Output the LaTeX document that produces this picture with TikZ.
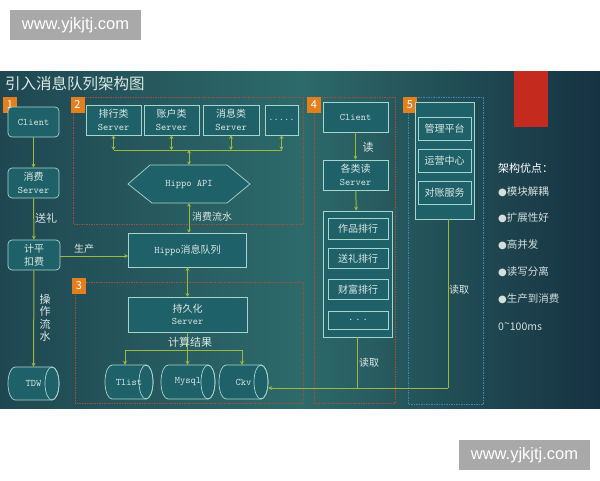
\documentclass[tikz,border=0pt]{standalone}
\usepackage{fontspec}
\setmainfont{Noto Sans CJK SC}
\newfontfamily\wmfont{Liberation Sans}
\newfontfamily\dejavu{DejaVu Sans}
\usetikzlibrary{arrows.meta}
\definecolor{bgl}{HTML}{1F4752}
\definecolor{bgm}{HTML}{2D6A6A}
\definecolor{bgr}{HTML}{163242}
\definecolor{nodefill}{HTML}{1E6168}
\definecolor{bord}{HTML}{A8D4CE}
\definecolor{txt}{HTML}{DCE8E4}
\definecolor{link}{HTML}{9DB83C}
\definecolor{sectred}{HTML}{A0503F}
\definecolor{sectblue}{HTML}{3C86BA}
\definecolor{numorange}{HTML}{E47F1E}
\definecolor{redbar}{HTML}{C42A1E}
\definecolor{wmgray}{HTML}{A9A9A9}
\definecolor{sidetxt}{HTML}{D4DEDC}
\newcommand\cylnode[6]{%
  \filldraw[draw=bord,fill=nodefill,line width=0.7pt] ({#2+7},#3) -- ({#4-7},#3)
    arc[start angle=270,end angle=450,x radius=7,y radius={(#5-#3)/2}] -- ({#2+7},#5)
    arc[start angle=90,end angle=270,x radius=7,y radius={(#5-#3)/2}] -- cycle;
  \draw[draw=bord,line width=0.7pt] ({#4-7},{(#3+#5)/2}) ellipse[x radius=7,y radius={(#5-#3)/2}];
  \node[inner sep=0pt,text=txt,font=\ttfamily\fontsize{10}{12}\selectfont,
        minimum width={(#4-#2)*1pt},minimum height={(#5-#3)*1pt}]
        (#1) at ({(#2+#4)/2},{(#3+#5)/2}) {#6};}
\begin{document}
\begin{tikzpicture}[x=1pt,y=-1pt,
  box/.style={draw=bord,fill=nodefill,text=txt,line width=0.7pt,inner sep=0pt,align=center,
              font=\fontsize{10}{12.5}\selectfont},
  rbox/.style={box,rounded corners=4pt},
  conn/.style={draw=link,line width=1pt,-{Stealth[length=4pt,width=4pt]}},
  dconn/.style={draw=link,line width=1pt,{Stealth[length=3.5pt,width=4pt]}-{Stealth[length=3.5pt,width=4pt]}},
  wire/.style={draw=link,line width=1pt},
  lbl/.style={text=txt,font=\fontsize{10}{11}\selectfont,inner sep=0pt,align=center},
  sect/.style={draw=sectred,line width=1pt,dash pattern=on 1.5pt off 1pt},
  num/.style={fill=numorange,text=white,font=\fontsize{11}{11}\selectfont,
              minimum width=14pt,minimum height=16pt,inner sep=0pt},
  side/.style={text=sidetxt,font=\fontsize{10.5}{12}\selectfont,anchor=west,inner sep=0pt}]
\useasboundingbox (0,0) rectangle (600,480);
\fill[white] (0,0) rectangle (600,480);
% watermarks
\node[fill=wmgray,text=white,font=\wmfont\fontsize{16.5}{16.5}\selectfont,minimum width=131pt,minimum height=30pt,inner sep=0pt] (wm1) at (75.5,25) {www.yjkjtj.com};
\node[fill=wmgray,text=white,font=\wmfont\fontsize{16.5}{16.5}\selectfont,minimum width=131pt,minimum height=30pt,inner sep=0pt] (wm2) at (524.5,455) {www.yjkjtj.com};
% panel
\shade[left color=bgl,right color=bgr,middle color=bgm] (0,71) rectangle (600,408);
\fill[redbar] (514,71) rectangle (548,127);
\node[anchor=west,text=txt,font=\fontsize{15.5}{15.5}\selectfont,inner sep=0pt] (title) at (5,84) {引入消息队列架构图};
% section frames
\draw[sect] (73,97) rectangle (303,224);
\draw[sect] (75,282) rectangle (303,403);
\draw[sect] (314,97) rectangle (395,403);
\draw[draw=sectblue,line width=1pt,dash pattern=on 1.5pt off 1pt] (408,97) rectangle (483,404);
\node[num] (n1) at (10,105) {1};
\node[num] (n2) at (77.5,105) {2};
\node[num] (n3) at (79,286) {3};
\node[num] (n4) at (314,105) {4};
\node[num] (n5) at (410,105) {5};
% section 1
\node[rbox,minimum width=51pt,minimum height=30pt,font=\ttfamily\fontsize{10}{12}\selectfont] (client1) at (33.5,122) {Client};
\node[rbox,minimum width=51pt,minimum height=30pt] (consume) at (33.5,183) {消费\\{\ttfamily Server}};
\node[rbox,minimum width=52pt,minimum height=30pt] (billing) at (34,255) {计平\\扣费};
\cylnode{tdw}{8}{367}{59}{400}{TDW}
\draw[conn] (client1) -- (consume);
\draw[conn] (consume) -- (billing);
\draw[conn] (billing) -- (tdw);
\node[lbl,font=\fontsize{11}{11}\selectfont] (l1) at (46,218) {送礼};
\node[lbl,font=\fontsize{11}{12.5}\selectfont] (l2) at (45,318) {操\\作\\流\\水};
% section 2
\node[box,minimum width=55pt,minimum height=30pt] (srv1) at (113.5,120) {排行类\\{\ttfamily Server}};
\node[box,minimum width=55pt,minimum height=30pt] (srv2) at (171.5,120) {账户类\\{\ttfamily Server}};
\node[box,minimum width=56pt,minimum height=30pt] (srv3) at (231,120) {消息类\\{\ttfamily Server}};
\node[box,minimum width=33pt,minimum height=30pt,font=\ttfamily\fontsize{10}{12}\selectfont] (srv4) at (281.5,120) {.....};
\filldraw[draw=bord,fill=nodefill,line width=0.7pt] (150,165) -- (227,165) -- (250,184) -- (227,203) -- (152,203) -- (128,184) -- cycle;
\node[inner sep=0pt,text=txt,font=\ttfamily\fontsize{10}{12}\selectfont,minimum width=122pt,minimum height=38pt] (hex) at (189,184) {Hippo API};
\coordinate (sb) at (189,150);
\draw[wire] (srv1.south |- sb) -- (srv4.south |- sb);
\draw[dconn] (srv1.south) -- (srv1.south |- sb);
\draw[dconn] (srv2.south) -- (srv2.south |- sb);
\draw[dconn] (srv3.south) -- (srv3.south |- sb);
\draw[dconn] (srv4.south) -- (srv4.south |- sb);
\draw[dconn] (sb) -- (hex.north);
\node[box,minimum width=118pt,minimum height=34pt] (queue) at (187.5,250) {{\ttfamily Hippo}消息队列};
\draw[dconn] (hex.south) -- (hex.south |- queue.north);
\node[lbl,anchor=west] (l3) at (192,217) {消费流水};
\draw[conn] ([yshift=-1pt]billing.east) -- ([yshift=-1pt]billing.east -| queue.west);
\node[lbl] (l4) at (84,249) {生产};
% section 3
\node[box,minimum width=119pt,minimum height=35pt] (persist) at (187.5,314.5) {持久化\\{\ttfamily Server}};
\draw[dconn] (queue.south) -- (queue.south |- persist.north);
\cylnode{tlist}{105}{365}{153}{399}{Tlist}
\cylnode{mysql}{161}{365}{215}{399}{Mysql}
\cylnode{ckv}{219}{365}{268}{399}{Ckv}
\coordinate (cb) at (187.5,350);
\draw[wire] (persist.south) -- (cb);
\draw[wire] ([xshift=-4pt]tlist.north |- cb) -- ([xshift=-1.5pt]ckv.north |- cb);
\draw[conn] ([xshift=-4pt]tlist.north |- cb) -- ([xshift=-4pt]tlist.north);
\draw[conn] (cb) -- (cb |- mysql.north);
\draw[conn] ([xshift=-1.5pt]ckv.north |- cb) -- ([xshift=-1.5pt]ckv.north);
\node[lbl,font=\fontsize{11}{11}\selectfont] (l5) at (190,342) {计算结果};
% section 4
\node[box,minimum width=65pt,minimum height=30pt,font=\ttfamily\fontsize{10}{12}\selectfont] (client4) at (355.5,117) {Client};
\node[box,minimum width=65pt,minimum height=30pt] (readsrv) at (355.5,175) {各类读\\{\ttfamily Server}};
\node[box,minimum width=69pt,minimum height=126pt] (stack) at (357.5,274) {};
\node[box,minimum width=60pt,minimum height=21pt] (it1) at (358,228.5) {作品排行};
\node[box,minimum width=60pt,minimum height=20pt] (it2) at (358,258.5) {送礼排行};
\node[box,minimum width=60pt,minimum height=20pt] (it3) at (358,289.5) {财富排行};
\node[box,minimum width=60pt,minimum height=18pt] (it4) at (358,320) {.\ \ .\ \ .};
\draw[conn] (client4) -- (readsrv);
\draw[conn] (readsrv) -- (stack);
\node[lbl,font=\fontsize{11}{11}\selectfont] (l6) at (368,147) {读};
% section 5
\node[box,minimum width=59pt,minimum height=117pt] (inner5) at (444.5,160.5) {};
\node[box,minimum width=53pt,minimum height=23pt] (m1) at (444.5,128.5) {管理平台};
\node[box,minimum width=53pt,minimum height=23pt] (m2) at (444.5,160.5) {运营中心};
\node[box,minimum width=53pt,minimum height=23pt] (m3) at (444.5,192.5) {对账服务};
% read links
\coordinate (r5) at (448,388);
\draw[wire] (inner5.south -| r5) -- (r5);
\draw[conn] (r5) -- (r5 -| ckv.east);
\draw[wire] (stack.south) -- (stack.south |- r5);
\node[lbl] (l7) at (369,363) {读取};
\node[lbl] (l8) at (459,290) {读取};
% right side
\node[side,text=white,font=\fontsize{11}{12}\selectfont] (s0) at (498,168) {架构优点：};
\node[side] (s1) at (498,192) {{\dejavu\fontsize{10}{10}\selectfont ●}模块解耦};
\node[side] (s2) at (498,218) {{\dejavu\fontsize{10}{10}\selectfont ●}扩展性好};
\node[side] (s3) at (498,245) {{\dejavu\fontsize{10}{10}\selectfont ●}高并发};
\node[side] (s4) at (498,272) {{\dejavu\fontsize{10}{10}\selectfont ●}读写分离};
\node[side] (s5) at (498,299) {{\dejavu\fontsize{10}{10}\selectfont ●}生产到消费};
\node[side,font=\rmfamily\fontsize{10.5}{12}\selectfont] (s6) at (498,327) {0\raisebox{0.5ex}{\textasciitilde}100ms};
\end{tikzpicture}
\end{document}
